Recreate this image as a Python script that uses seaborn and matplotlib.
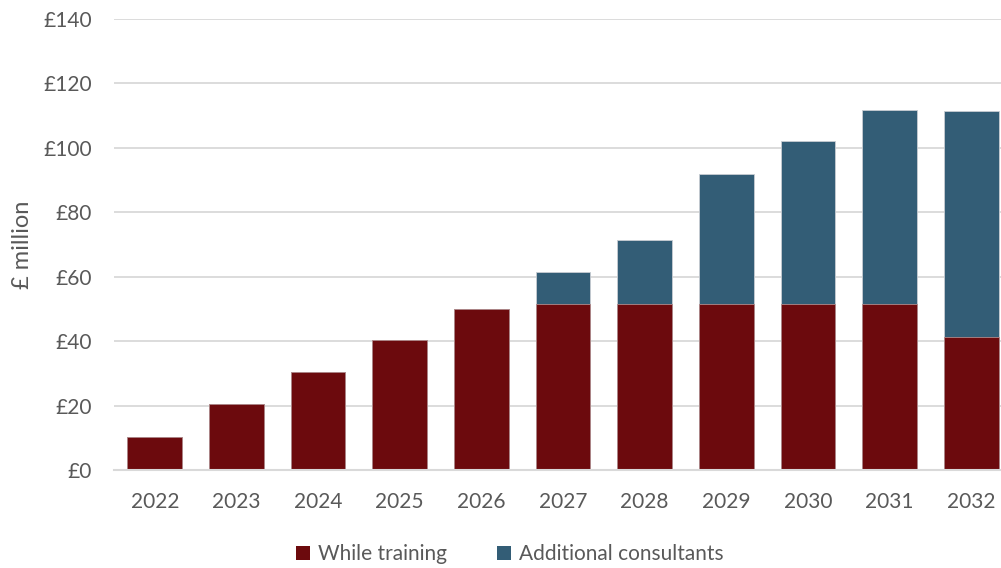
import matplotlib
matplotlib.use("Agg")
import matplotlib.pyplot as plt
import matplotlib.ticker as mticker
from matplotlib.patches import Patch
import seaborn as sns
import pandas as pd
import numpy as np

years = ["2022", "2023", "2024", "2025", "2026", "2027", "2028", "2029", "2030", "2031", "2032"]
while_training = [10.3, 20.6, 30.5, 40.3, 50.0, 51.6, 51.6, 51.6, 51.6, 51.6, 41.3]
additional_consultants = [0, 0, 0, 0, 0, 9.9, 19.9, 40.3, 50.4, 60.2, 70.1]
series_names = ["While training", "Additional consultants"]
y_ticks = [0, 20, 40, 60, 80, 100, 120, 140]

RED = "#6C0A0D"
BLUE = "#335D76"
TXT = "#595959"
GRID = "#D9D9D9"

sns.set_theme(style="white")
plt.rcParams["font.family"] = ["Lato", "DejaVu Sans"]

fig = plt.figure(figsize=(10.01, 5.68), dpi=100)
ax_left = 114 / 1001
ax_w = (1012 - 114) / 1001
ax = fig.add_axes([ax_left, 1 - 470 / 568, ax_w, (470 - 19) / 568])

df = pd.DataFrame({"year": years, "wt": while_training, "ac": additional_consultants})
df["total"] = df["wt"] + df["ac"]

sns.barplot(data=df, x="year", y="total", color=BLUE, width=0.67, ax=ax,
            saturation=1, edgecolor="#C8CDD2", linewidth=0.6, zorder=3)
sns.barplot(data=df, x="year", y="wt", color=RED, width=0.67, ax=ax,
            saturation=1, edgecolor="#B08A8B", linewidth=0.6, zorder=4)

ax.set_xlim(-0.5, 10.5)
ax.set_ylim(0, 140)
ax.set_yticks(y_ticks)
ax.yaxis.set_major_formatter(mticker.FuncFormatter(lambda v, p: f"£{int(v)}"))
ax.grid(axis="y", color=GRID, linewidth=1.3, zorder=0)
ax.set_axisbelow(True)
for s in ["top", "right", "left"]:
    ax.spines[s].set_visible(False)
ax.spines["bottom"].set_color(GRID)
ax.spines["bottom"].set_linewidth(1.5)
ax.spines["bottom"].set_zorder(5)

ax.tick_params(axis="x", which="major", length=0, pad=16, labelsize=15, labelcolor=TXT)
ax.xaxis.set_minor_locator(mticker.FixedLocator(np.arange(-0.5, 11, 1.0)))
ax.tick_params(axis="x", which="minor", length=6, width=1.5, color=GRID)
ax.tick_params(axis="y", length=0, pad=16, labelsize=15, labelcolor=TXT)

ax.set_xlabel("")
ax.set_ylabel("£ million", fontsize=17, color=TXT)
ax.yaxis.set_label_coords((33 - 114) / (ax_w * 1001), 0.5 + ((470 + 19) / 2 - 245) / 451)

handles = [Patch(facecolor=RED, edgecolor="none"), Patch(facecolor=BLUE, edgecolor="none")]
fig.legend(handles, series_names, loc="center", bbox_to_anchor=(510 / 1001, 1 - 554 / 568),
           ncol=2, frameon=False, fontsize=15, handlelength=0.65, handleheight=0.65,
           handletextpad=0.4, columnspacing=2.4, labelcolor=TXT)

fig.savefig("out.png", dpi=100)
